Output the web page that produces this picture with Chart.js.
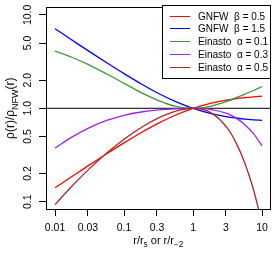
<!DOCTYPE html>
<html>
<head>
<meta charset="utf-8">
<script src="https://cdn.jsdelivr.net/npm/chart.js@4.4.1/dist/chart.umd.min.js"></script>
<style>
  html, body { margin: 0; padding: 0; background: #fff; }
  #wrap { width: 274px; height: 253px; }
</style>
</head>
<body>
<div id="wrap"><canvas id="densityChart" width="274" height="253"></canvas></div>
<script>
// radius in units of r_s (GNFW) or r_-2 (Einasto)
const radius = [0.01, 0.0178, 0.0316, 0.0562, 0.1, 0.178, 0.316, 0.562, 1, 1.78, 3.16, 4.22, 5.62, 7.5, 10];

// rho(r) / rho_NFW(r)
const gnfw05 = [0.141, 0.187, 0.248, 0.326, 0.426, 0.550, 0.693, 0.848, 1, 1.131, 1.233, 1.272, 1.303, 1.328, 1.348];
const gnfw15 = [7.11, 5.35, 4.04, 3.07, 2.35, 1.82, 1.44, 1.18, 1, 0.884, 0.811, 0.787, 0.767, 0.753, 0.742];
const einasto01 = [4.09, 3.50, 2.90, 2.33, 1.85, 1.47, 1.21, 1.05, 1, 1.05, 1.19, 1.30, 1.42, 1.55, 1.71];
const einasto03 = [0.376, 0.494, 0.621, 0.741, 0.841, 0.913, 0.960, 0.988, 1, 0.976, 0.875, 0.784, 0.668, 0.536, 0.397];
const einasto05 = [0.093, 0.148, 0.226, 0.332, 0.466, 0.623, 0.789, 0.933, 1, 0.904, 0.609, 0.424, 0.260, 0.135, 0.058];

const seriesLabels = ['GNFW  \u03b2 = 0.5', 'GNFW  \u03b2 = 1.5', 'Einasto  \u03b1 = 0.1', 'Einasto  \u03b1 = 0.3', 'Einasto  \u03b1 = 0.5'];
const seriesColors = ['#ff0000', '#0000ff', '#3a9a3a', '#a020f0', '#a52a2a'];

const xTicks = [0.01, 0.03, 0.1, 0.3, 1, 3, 10];
const xTickLabels = ['0.01', '0.03', '0.1', '0.3', '1', '3', '10'];
const yTicks = [0.1, 0.2, 0.5, 1, 2, 5, 10];
const yTickLabels = ['0.1', '0.2', '0.5', '1.0', '2.0', '5.0', '10.0'];

const xMin = 0.0074, xMax = 13.3;
const yMin = 0.0835, yMax = 12.06;
const refLevel = 1;

const FONT = "'Liberation Sans', Arial, sans-serif";

function toPoints(ys) {
    return ys.map((y, i) => ({ x: radius[i], y: y }));
}

const curves = [gnfw05, gnfw15, einasto01, einasto03, einasto05].map((ys, i) => ({
    label: seriesLabels[i],
    data: toPoints(ys),
    borderColor: seriesColors[i],
    borderWidth: 1.3,
    pointRadius: 0,
    fill: false,
    cubicInterpolationMode: 'monotone',
    order: 5 - i
}));

// horizontal reference line at ratio = 1
curves.push({
    label: 'ref',
    data: [{ x: xMin, y: refLevel }, { x: xMax, y: refLevel }],
    borderColor: '#000',
    borderWidth: 1,
    pointRadius: 0,
    fill: false,
    order: 10
});

// draws text with subscript runs, optionally rotated
function drawRich(ctx, parts, x, y, size, rotated) {
    ctx.save();
    ctx.translate(x, y);
    if (rotated) ctx.rotate(-Math.PI / 2);
    ctx.fillStyle = '#000';
    ctx.textBaseline = 'alphabetic';
    ctx.textAlign = 'left';
    let total = 0;
    parts.forEach(p => {
        ctx.font = (p.sub ? size * 0.75 : size) + 'px ' + FONT;
        total += ctx.measureText(p.t).width;
    });
    let cx = -total / 2;
    parts.forEach(p => {
        ctx.font = (p.sub ? size * 0.75 : size) + 'px ' + FONT;
        ctx.fillText(p.t, cx, p.sub ? size * 0.3 : 0);
        cx += ctx.measureText(p.t).width;
    });
    ctx.restore();
}

const framePlugin = {
    id: 'frame',
    afterDraw(chart) {
        const { ctx, chartArea: a } = chart;
        ctx.save();
        ctx.strokeStyle = '#000';
        ctx.lineWidth = 1;
        ctx.strokeRect(Math.round(a.left) + 0.5, Math.round(a.top) + 0.5,
            Math.round(a.right - a.left) - 1, Math.round(a.bottom - a.top));

        // legend box, top right
        const lx = 162.5, ly = 5.5, lw = 108, lh = 73;
        ctx.fillStyle = '#fff';
        ctx.fillRect(lx, ly, lw, lh);
        ctx.strokeRect(lx, ly, lw, lh);
        ctx.font = '10px ' + FONT;
        ctx.textBaseline = 'middle';
        ctx.textAlign = 'left';
        chart.data.datasets.slice(0, 5).forEach((ds, i) => {
            const rowY = Math.round(15.5 + i * 12.8) + 0.5;
            ctx.strokeStyle = ds.borderColor;
            ctx.lineWidth = 1;
            ctx.beginPath();
            ctx.moveTo(170, rowY);
            ctx.lineTo(190, rowY);
            ctx.stroke();
            ctx.fillStyle = '#000';
            ctx.fillText(ds.label, 198, rowY + 0.5);
        });

        // axis titles with subscripts
        drawRich(ctx, [{ t: 'r/r' }, { t: 's', sub: true }, { t: ' or r/r' }, { t: '\u22122', sub: true }],
            (a.left + a.right) / 2, 244, 11, false);
        drawRich(ctx, [{ t: '\u03c1(r)/\u03c1' }, { t: 'NFW', sub: true }, { t: '(r)' }],
            14, (a.top + a.bottom) / 2, 12, true);
        ctx.restore();
    }
};

const tickFont = { family: FONT, size: 10.5 };

const ctx = document.getElementById('densityChart').getContext('2d');
const densityChart = new Chart(ctx, {
    type: 'line',
    data: { datasets: curves },
    options: {
        responsive: false,
        animation: false,
        devicePixelRatio: 1,
        layout: { padding: { top: 5, right: 2, left: 0, bottom: 0 } },
        plugins: {
            legend: { display: false },
            tooltip: { enabled: false }
        },
        scales: {
            x: {
                type: 'logarithmic',
                min: xMin,
                max: xMax,
                afterBuildTicks: s => { s.ticks = xTicks.map(v => ({ value: v })); },
                afterFit: s => { s.height = 44; },
                ticks: {
                    callback: (v, i) => xTickLabels[i],
                    font: tickFont,
                    color: '#000',
                    padding: 6,
                    autoSkip: false,
                    maxRotation: 0
                },
                grid: { drawOnChartArea: false, tickLength: 7, color: '#000' },
                border: { display: false }
            },
            y: {
                type: 'logarithmic',
                min: yMin,
                max: yMax,
                afterBuildTicks: s => { s.ticks = yTicks.map(v => ({ value: v })); },
                afterFit: s => { s.width = 46; },
                ticks: {
                    callback: (v, i) => yTickLabels[i],
                    font: tickFont,
                    color: '#000',
                    minRotation: 90,
                    maxRotation: 90,
                    crossAlign: 'center',
                    padding: 1,
                    autoSkip: false
                },
                grid: { drawOnChartArea: false, tickLength: 7, color: '#000' },
                border: { display: false }
            }
        }
    },
    plugins: [framePlugin]
});
</script>
</body>
</html>
